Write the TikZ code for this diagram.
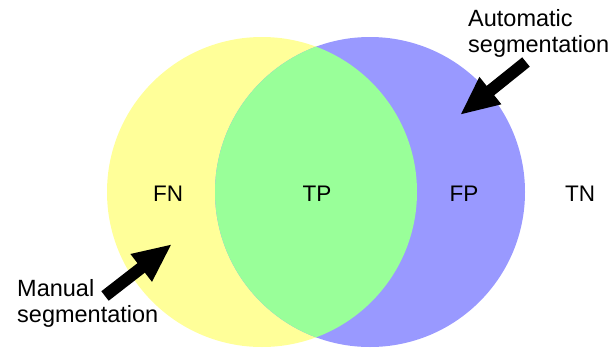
\documentclass[tikz,border=0pt]{standalone}
\usepackage{fontspec}
\setmainfont{Liberation Sans}
\usetikzlibrary{arrows.meta}
\definecolor{manualfill}{HTML}{FFFF99}
\definecolor{autofill}{HTML}{9999FF}
\definecolor{bothfill}{HTML}{99FF99}

\begin{document}
\begin{tikzpicture}[x=1pt, y=-1pt,
  region/.style={circle, inner sep=0, outer sep=0, minimum size=310pt},
  lbl/.style={inner sep=0, font=\fontsize{22.5}{26}\selectfont},
  pointer/.style={inner sep=0, align=left, anchor=base west, font=\fontsize{23.5}{25.5}\selectfont},
  bigarrow/.style={line width=12pt, -{Triangle[length=39pt, width=32pt]}}]
  \useasboundingbox (0,0) rectangle (614,351);

  % Manual and automatic segmentation
  \node[region, fill=manualfill] (manual) at (262,192) {};
  \node[region, fill=autofill] (auto) at (370,192) {};
  \begin{scope}
    \clip (manual.center) circle (155pt);
    \fill[bothfill] (auto.center) circle (155pt);
  \end{scope}

  % Region labels
  \node[lbl, anchor=base] (fn) at (168,201) {FN};
  \node[lbl, anchor=base] (tp) at (317,201) {TP};
  \node[lbl, anchor=base] (fp) at (464,201) {FP};
  \node[lbl, anchor=base] (tn) at (580,201) {TN};

  % Automatic segmentation pointer (base = last line)
  \node[pointer] (autotext) at (468,52) {Automatic\\segmentation};
  \coordinate (autotail) at (526,62);
  \coordinate (autotip) at (460,115);
  \draw[bigarrow] (autotail) -- (autotip);

  % Manual segmentation pointer
  \node[pointer] (manualtext) at (17,322) {Manual\\segmentation};
  \coordinate (manualtail) at (105,296);
  \coordinate (manualtip) at (172,244);
  \draw[bigarrow] (manualtail) -- (manualtip);
\end{tikzpicture}
\end{document}
